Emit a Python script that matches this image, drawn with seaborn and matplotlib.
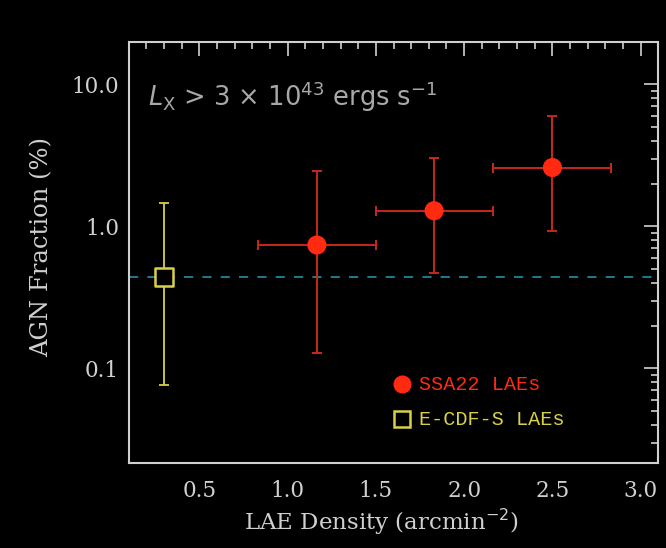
import numpy as np
import matplotlib
matplotlib.use("Agg")
import matplotlib.pyplot as plt
import seaborn as sns
import pandas as pd
from matplotlib.ticker import FixedLocator, MultipleLocator, NullFormatter

# SSA22 LAEs (red filled circles)
ssa_x = [1.166, 1.83, 2.50]
ssa_xlo = [0.83, 1.50, 2.163]
ssa_xhi = [1.50, 2.163, 2.83]
ssa_y = [0.74, 1.29, 2.60]
ssa_ylo = [0.129, 0.472, 0.93]
ssa_yhi = [2.44, 3.01, 6.02]

# E-CDF-S LAEs (yellow open square)
ecdfs_x = [0.30]
ecdfs_y = [0.44]
ecdfs_ylo = [0.076]
ecdfs_yhi = [1.46]

field_level = 0.44

legend_labels = ["SSA22 LAEs", "E-CDF-S LAEs"]

RED = "#ff2a10"
RED_BAR = "#c8281c"
YELLOW = "#d8d048"
TEAL = "#2a8ea0"
FG = "#d0d0d0"

sns.set_style("dark", {"axes.facecolor": "black", "figure.facecolor": "black"})
plt.rcParams["font.family"] = ["DejaVu Serif"]

fig = plt.figure(figsize=(6.66, 5.48), dpi=100)
ax = fig.add_axes([0.1932, 0.1546, 0.7953, 0.7682])
ax.set_facecolor("black")

ssa = pd.DataFrame({"x": ssa_x, "y": ssa_y})
ecd = pd.DataFrame({"x": ecdfs_x, "y": ecdfs_y})

# field AGN fraction
ax.axhline(field_level, color=TEAL, ls=(0, (5.5, 5.5)), lw=1.2, zorder=1)

xe = [np.array(ssa_x) - np.array(ssa_xlo), np.array(ssa_xhi) - np.array(ssa_x)]
ye = [np.array(ssa_y) - np.array(ssa_ylo), np.array(ssa_yhi) - np.array(ssa_y)]
ax.errorbar(ssa_x, ssa_y, xerr=xe, yerr=ye, fmt="none", ecolor=RED_BAR,
            elinewidth=1.4, capsize=3.5, capthick=1.4, zorder=2)
sns.scatterplot(data=ssa, x="x", y="y", ax=ax, s=190, color=RED,
                edgecolor="none", zorder=3, legend=False)

ye2 = [np.array(ecdfs_y) - np.array(ecdfs_ylo), np.array(ecdfs_yhi) - np.array(ecdfs_y)]
ax.errorbar(ecdfs_x, ecdfs_y, yerr=ye2, fmt="none", ecolor=YELLOW,
            elinewidth=1.3, capsize=3.5, capthick=1.3, zorder=2)
sns.scatterplot(data=ecd, x="x", y="y", ax=ax, s=160, marker="s",
                facecolor="black", edgecolor=YELLOW, linewidth=1.8,
                zorder=3, legend=False)

ax.set_yscale("log")
ax.set_xlim(0.1, 3.1)
ax.set_ylim(0.0215, 19.8)

ax.xaxis.set_major_locator(FixedLocator([0.5, 1.0, 1.5, 2.0, 2.5, 3.0]))
ax.xaxis.set_minor_locator(MultipleLocator(0.1))
ax.set_xticklabels(["0.5", "1.0", "1.5", "2.0", "2.5", "3.0"])
ax.set_yticks([0.1, 1.0, 10.0])
ax.set_yticklabels(["0.1", "1.0", "10.0"])
ax.yaxis.set_minor_formatter(NullFormatter())

ax.tick_params(which="both", direction="in", top=True, right=True,
               colors=FG, labelcolor=FG, labelsize=15.5, width=1.2)
ax.tick_params(which="major", length=10)
ax.tick_params(axis="x", which="major", pad=12)
ax.tick_params(axis="y", which="major", pad=7)
ax.tick_params(which="minor", length=5)
for s in ax.spines.values():
    s.set_color(FG)
    s.set_linewidth(1.5)

ax.set_xlabel("LAE Density (arcmin$^{-2}$)", color=FG, fontsize=16.5)
ax.set_ylabel("AGN Fraction (%)", color=FG, fontsize=17.5)
ax.xaxis.set_label_coords(0.476, -0.104)
ax.yaxis.set_label_coords(-0.143, 0.514)

ax.text(0.036, 0.870, r"$L_{\rm X}$ > 3 $\times$ 10$^{43}$ ergs s$^{-1}$",
        transform=ax.transAxes, color="#a8a8a8", fontsize=18.5,
        family=["DejaVu Sans"], va="center")

# legend drawn by hand to sit where the original does
ax.plot([0.516], [0.188], transform=ax.transAxes, ls="none", marker="o",
        ms=12, mfc=RED, mec=RED, clip_on=False)
ax.plot([0.516], [0.105], transform=ax.transAxes, ls="none", marker="s",
        ms=11, mfc="black", mec=YELLOW, mew=1.8, clip_on=False)
ax.text(0.548, 0.188, legend_labels[0], transform=ax.transAxes, color=RED,
        family=["Liberation Mono"], fontsize=14.5, va="center")
ax.text(0.548, 0.105, legend_labels[1], transform=ax.transAxes, color=YELLOW,
        family=["Liberation Mono"], fontsize=14.5, va="center")

fig.savefig("out.png", dpi=100, facecolor="black")
